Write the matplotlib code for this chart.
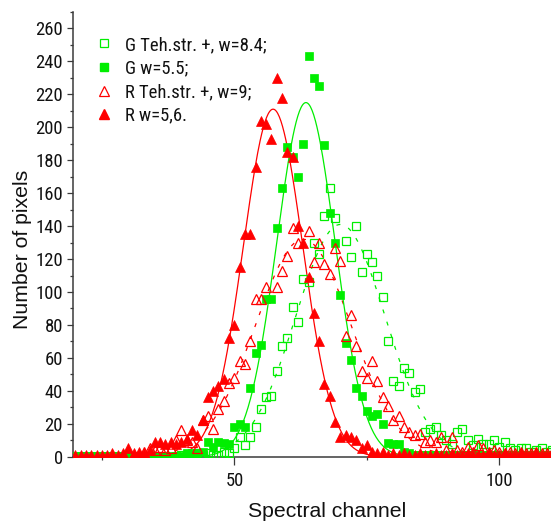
import numpy as np
import matplotlib
matplotlib.use("Agg")
import matplotlib.pyplot as plt
from matplotlib.lines import Line2D
from matplotlib.ticker import MultipleLocator
from matplotlib import font_manager

# --- measured histograms (channel -> pixel count) ---
rf_ch = list(range(20, 111))
rf_val = [1, 1, 1, 1, 1, 1, 1, 2, 1, 2,
          5, 2, 3, 2, 4, 9, 9, 8, 9, 8,
          9, 11, 16, 13, 22, 36, 40, 43, 47, 72,
          80, 115, 135, 135, 176, 204, 202, 193, 230, 218,
          185, 182, 140, 130, 109, 87, 70, 44, 37, 21,
          12, 13, 12, 10, 5, 7, 3, 2, 3, 1,
          2, 1, 2, 1, 1, 2, 1, 1, 2, 1,
          1, 2, 1, 1, 2, 1, 1, 1, 2, 1,
          1, 2, 1, 1, 2, 1, 1, 2, 1, 1, 2]

gf_ch = list(range(20, 111))
gf_val = [0.5] * 21 + [
          2, 2, 2, 3, 9, 6, 9, 8.5, 8,
          18, 20, 18, 42, 63, 68, 96, 96, 139, 163,
          188, 182, 170, 190, 243, 230, 225, 189, 148, 129.5,
          98, 69, 59, 42, 37, 28, 25, 26, 20, 8.5,
          8, 7.5, 3, 2] + [1] * 27

ro_ch = [33, 34, 35, 36, 37, 38, 39, 40, 41, 42, 43, 44, 45, 46, 47, 48, 49,
         50, 51, 52, 53, 54, 55, 56, 58, 59, 60, 61, 62, 64, 65, 66, 67, 68,
         69, 70, 71, 72, 73, 74, 75, 76, 77, 78, 79, 80, 81, 82, 83, 84, 85,
         86, 87, 88, 89, 90, 91, 92, 93, 94, 95, 96, 97, 98, 99, 100, 101,
         102, 103, 104, 105, 106, 107, 108, 109, 110]
ro_val = [3, 5, 4, 6, 4, 5, 10, 16, 10, 9, 5, 22, 25, 17, 29, 34, 45,
          48, 58, 56, 70, 96, 96, 103, 103, 113, 122, 139, 130, 137, 118, 130, 117, 111,
          127, 119, 73, 86, 67, 52, 48, 58, 46, 36, 31, 22, 25, 18, 15, 13, 14,
          9, 10, 9, 12, 4, 12, 4, 3, 6, 3, 7, 5, 3, 4, 3, 2,
          3, 2, 3, 2, 2, 3, 2, 2, 2]

go_ch = [40, 41, 42, 43, 44, 45, 46, 47, 48, 49, 50, 51, 52, 53, 54, 55, 56,
         57, 58, 59, 60, 61, 62, 63, 64, 65, 66, 67, 68, 69, 71, 72, 73, 74,
         75, 76, 77, 78, 79, 80, 81, 82, 83, 84, 85, 86, 87, 88, 89, 90, 91,
         92, 93, 94, 95, 96, 97, 98, 99, 100, 101, 102, 103, 104, 105, 106,
         107, 108, 109, 110]
go_val = [1, 1, 1, 2, 1, 2, 1, 1, 3, 2, 5, 12, 7, 12, 18, 29, 36,
          37, 52, 67, 72, 91, 82, 108, 106, 130, 123, 146, 163, 145, 131, 121, 140, 112,
          123, 118, 110, 97, 70, 46, 43, 54, 51, 39, 41, 15, 17, 18, 13, 10, 8,
          15, 17, 10, 7, 11, 8, 8, 10, 6, 9, 5, 4, 5, 5, 3,
          4, 5, 3, 4]

# Gaussian fit parameters: (centre, amplitude, width)
fit_g_str = (70.0, 141.0, 8.4)
fit_g = (63.5, 215.0, 5.5)
fit_r_str = (63.0, 132.0, 9.0)
fit_r = (57.3, 211.0, 5.6)

legend_labels = ["G Teh.str. +, w=8.4;", "G w=5.5;", "R Teh.str. +, w=9;", "R w=5,6."]

GREEN = "#00ee00"
RED = "#ff0000"

# pick a condensed sans face when one is installed
avail = {f.name for f in font_manager.fontManager.ttflist}
narrow = None
for cand in ("Liberation Sans Narrow", "Arial Narrow", "Roboto Condensed",
             "Open Sans Condensed", "DejaVu Sans Condensed", "Noto Sans Condensed"):
    if cand in avail:
        narrow = cand
        break
if narrow is None:
    cond = [f.name for f in font_manager.fontManager.ttflist
            if f.stretch in ("condensed", "semi-condensed", "extra-condensed")
            and f.style == "normal" and f.weight in (400, "normal", "regular")]
    narrow = cond[0] if cond else None
if narrow is None:
    narrow = "Liberation Sans"
    tick_size, leg_size = 12.4, 12.2
else:
    tick_size, leg_size = 13.4, 13.4

fig = plt.figure(figsize=(5.51, 5.23), dpi=100)
ax = fig.add_axes([73 / 551, 66.3 / 523, 478 / 551, 444.7 / 523])

xs = np.linspace(19.5, 110, 600)


def gauss(x, c, a, w):
    return a * np.exp(-(x - c) ** 2 / (2 * w ** 2))


ax.plot(xs, gauss(xs, *fit_r_str), color=RED, lw=0.9, dashes=(3.2, 7), zorder=1)
ax.plot(xs, gauss(xs, *fit_g_str), color=GREEN, lw=0.9, dashes=(3.2, 7), zorder=2)
ax.plot(xs, gauss(xs, *fit_g), color=GREEN, lw=0.9, zorder=2)
ax.plot(xs, gauss(xs, *fit_r), color=RED, lw=0.9, zorder=2)

ax.plot(go_ch, go_val, ls="none", marker="s", ms=5.6, mfc="none", mec=GREEN, mew=0.9, zorder=3)
ax.plot(gf_ch, gf_val, ls="none", marker="s", ms=5.6, mfc=GREEN, mec=GREEN, mew=0.5, zorder=4)
ax.plot(ro_ch, ro_val, ls="none", marker="^", ms=7.8, mfc="none", mec=RED, mew=0.9, zorder=5)
ax.plot(rf_ch, rf_val, ls="none", marker="^", ms=7.8, mfc=RED, mec=RED, mew=0.5, zorder=6)

ax.set_xlim(19.55, 109.74)
ax.set_ylim(0, 270)

for s in ("top", "right"):
    ax.spines[s].set_visible(False)
for s in ("left", "bottom"):
    ax.spines[s].set_color("#3a3a3a")
    ax.spines[s].set_linewidth(1.1)

ax.xaxis.set_major_locator(MultipleLocator(50))
ax.xaxis.set_minor_locator(MultipleLocator(25))
ax.yaxis.set_major_locator(MultipleLocator(20))
ax.yaxis.set_minor_locator(MultipleLocator(10))
ax.tick_params(axis="both", which="major", direction="out", color="#3a3a3a", width=0.9)
ax.tick_params(axis="x", which="major", length=5.8, pad=5)
ax.tick_params(axis="y", which="major", length=4.3, pad=3)
ax.tick_params(axis="both", which="minor", direction="out", length=2.4, width=0.9, color="#3a3a3a")
for lab in ax.get_xticklabels() + ax.get_yticklabels():
    lab.set_fontfamily(narrow)
    lab.set_fontsize(tick_size)
    lab.set_color("#111111")

ax.set_xlabel("Spectral channel", family="Liberation Sans", fontsize=15.3, color="#111111")
ax.set_ylabel("Number of pixels", family="Liberation Sans", fontsize=15.3, color="#111111")
ax.xaxis.set_label_coords(0.531, -0.101)
ax.yaxis.set_label_coords(-0.085, 0.467)

handles = [
    Line2D([], [], ls="none", marker="s", ms=5.6, mfc="none", mec=GREEN, mew=0.9),
    Line2D([], [], ls="none", marker="s", ms=5.6, mfc=GREEN, mec=GREEN),
    Line2D([], [], ls="none", marker="^", ms=7.8, mfc="none", mec=RED, mew=0.9),
    Line2D([], [], ls="none", marker="^", ms=7.8, mfc=RED, mec=RED),
]
leg = ax.legend(handles, legend_labels, loc="upper left",
                bbox_to_anchor=((95 - 73) / 478, (456.7 - 36) / 444.7),
                frameon=False, prop={"family": narrow, "size": leg_size},
                handlelength=1.0, handletextpad=0.6, labelspacing=0.3,
                borderaxespad=0, borderpad=0)
for t in leg.get_texts():
    t.set_color("#111111")

fig.savefig("out.png", dpi=100)
